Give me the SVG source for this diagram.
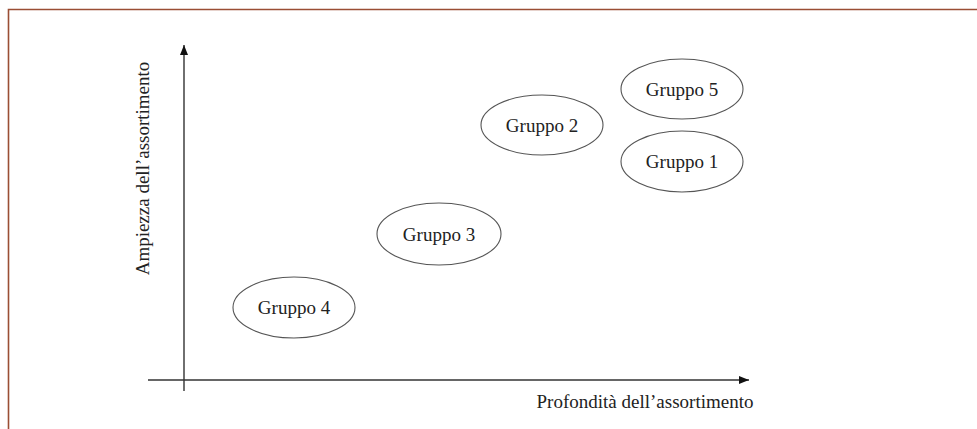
<svg xmlns="http://www.w3.org/2000/svg" width="977" height="429" viewBox="0 0 977 429">
<defs>
<style>
.frame{fill:none;stroke:#9a4e34;stroke-width:1.6}
.axis{fill:none;stroke:#333;stroke-width:1.4}
.node ellipse{fill:#fff;stroke:#555;stroke-width:1.1}
.node text,.lbl{font-family:"Liberation Serif","Times New Roman",serif;font-size:19px;fill:#222;text-anchor:middle}
</style>
<marker id="arr" viewBox="0 0 10 8" refX="10" refY="4" markerWidth="10" markerHeight="8" markerUnits="userSpaceOnUse" orient="auto">
<path d="M0,0 L10,4 L0,8 Z" fill="#111"/>
</marker>
</defs>
<rect width="977" height="429" fill="#fff"/>
<path class="frame" d="M8.5,429 V9.5 H977"/>
<g id="connectors">
<line class="axis" x1="184" y1="391" x2="184" y2="45" marker-end="url(#arr)"/>
<line class="axis" x1="148" y1="380" x2="749" y2="380" marker-end="url(#arr)"/>
</g>
<text class="lbl" x="645" y="408">Profondità dell’assortimento</text>
<text class="lbl" transform="translate(149,168.5) rotate(-90)">Ampiezza dell’assortimento</text>
<g id="gruppo4" class="node"><ellipse cx="294" cy="307.5" rx="61" ry="30.5"/><text x="294" y="314">Gruppo 4</text></g>
<g id="gruppo3" class="node"><ellipse cx="439" cy="234" rx="62" ry="31"/><text x="439" y="240.5">Gruppo 3</text></g>
<g id="gruppo2" class="node"><ellipse cx="542" cy="125" rx="61" ry="30"/><text x="542" y="131.5">Gruppo 2</text></g>
<g id="gruppo5" class="node"><ellipse cx="682" cy="89" rx="61" ry="30"/><text x="682" y="95.5">Gruppo 5</text></g>
<g id="gruppo1" class="node"><ellipse cx="682" cy="161.5" rx="61" ry="30.5"/><text x="682" y="168">Gruppo 1</text></g>
</svg>
